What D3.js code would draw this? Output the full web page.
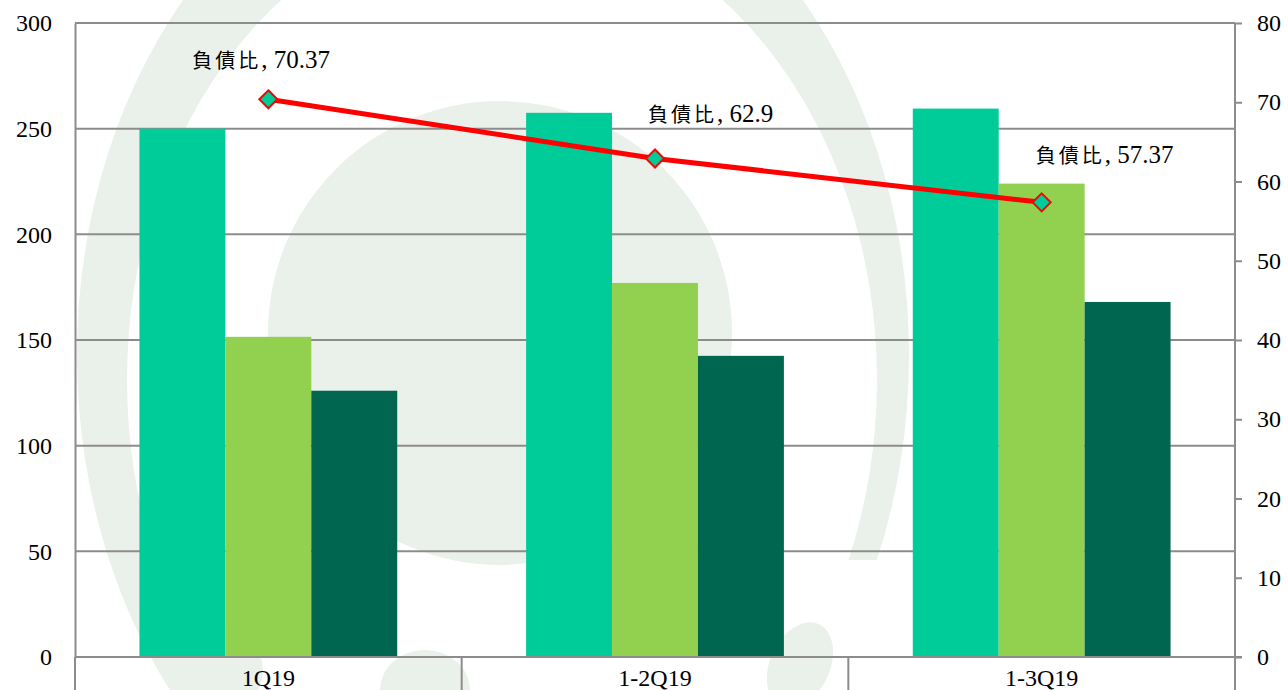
<!DOCTYPE html>
<html>
<head>
<meta charset="utf-8">
<script src="https://cdn.jsdelivr.net/npm/d3@7"></script>
<style>
  html, body { margin: 0; padding: 0; background: #fff; }
  svg { display: block; }
</style>
</head>
<body>
<svg id="chart" width="1288" height="690"></svg>
<script>
// ---- data ----
const categories = ["1Q19", "1-2Q19", "1-3Q19"];
const seriesNames = ["s1", "s2", "s3"];
const series1 = [250, 257.5, 259.5];
const series2 = [151.5, 177, 224];
const series3 = [126, 142.5, 168];
const debtRatio = [70.37, 62.9, 57.37];
const lineName = "負債比";
const leftTicks = [0, 50, 100, 150, 200, 250, 300];
const rightTicks = [0, 10, 20, 30, 40, 50, 60, 70, 80];

const colors = ["#00CC99", "#92D050", "#00664F"];

// ---- layout ----
const W = 1288, H = 690;
const L = 75, R = 1235, T = 23, B = 657;
const svg = d3.select("#chart");

// ---- watermark (faint logo) ----
const wmColor = "#eaf0ea";
const defs = svg.append("defs");
defs.append("clipPath").attr("id", "ringClip").append("path")
  .attr("d", "M0,0H1288V560H600V690H0Z");
function ellipsePath(cx, cy, rx, ry) {
  return `M${cx - rx},${cy}a${rx},${ry} 0 1,0 ${2 * rx},0a${rx},${ry} 0 1,0 ${-2 * rx},0Z`;
}
const wm = svg.append("g");
wm.append("path")
  .attr("d", ellipsePath(493, 355, 416, 532) + ellipsePath(502, 380, 375, 470))
  .attr("fill-rule", "evenodd").attr("fill", wmColor)
  .attr("clip-path", "url(#ringClip)");
wm.append("circle").attr("cx", 500).attr("cy", 333).attr("r", 232).attr("fill", wmColor);
// small swooshes near bottom
wm.append("ellipse").attr("cx", 228).attr("cy", 660).attr("rx", 32).attr("ry", 45)
  .attr("fill", wmColor).attr("transform", "rotate(-25,228,660)");
wm.append("ellipse").attr("cx", 425).attr("cy", 690).attr("rx", 45).attr("ry", 40).attr("fill", wmColor);
wm.append("ellipse").attr("cx", 800).attr("cy", 665).attr("rx", 30).attr("ry", 45)
  .attr("fill", wmColor).attr("transform", "rotate(25,800,665)");

// ---- scales ----
const x = d3.scaleBand().domain(categories).range([L, R]).padding(0);
const xs = d3.scaleBand().domain(seriesNames).range([0, x.bandwidth()])
  .paddingInner(0).paddingOuter(0.75);
const yL = d3.scaleLinear().domain([0, 300]).range([B, T]);
const yR = d3.scaleLinear().domain([0, 80]).range([B, T]);

const gridColor = "#8c8c8c";
const fontSerif = "'Liberation Serif', 'Times New Roman', serif";

// gridlines
svg.append("g").selectAll("line").data(leftTicks.filter(d => d > 0)).join("line")
  .attr("x1", L).attr("x2", R)
  .attr("y1", d => yL(d)).attr("y2", d => yL(d))
  .attr("stroke", gridColor).attr("stroke-width", 2);

// bars
const allSeries = [series1, series2, series3];
const barG = svg.append("g");
categories.forEach((c, i) => {
  seriesNames.forEach((s, j) => {
    const v = allSeries[j][i];
    barG.append("rect")
      .attr("x", x(c) + xs(s))
      .attr("width", xs.bandwidth())
      .attr("y", yL(v))
      .attr("height", B - yL(v))
      .attr("fill", colors[j]);
  });
});

// left axis
const axL = svg.append("g").attr("transform", `translate(${L},0)`)
  .call(d3.axisLeft(yL).tickValues(leftTicks).tickSize(0).tickPadding(23));
axL.select(".domain").attr("stroke", gridColor).attr("stroke-width", 2);
axL.selectAll("text").attr("font-family", fontSerif).attr("font-size", 24).attr("fill", "#000");

// right axis
const axR = svg.append("g").attr("transform", `translate(${R},0)`)
  .call(d3.axisRight(yR).tickValues(rightTicks).tickSize(7).tickPadding(15));
axR.select(".domain").attr("stroke", gridColor).attr("stroke-width", 2).attr("d", `M0,${T}V${B}`);
axR.selectAll(".tick line").attr("stroke", gridColor).attr("stroke-width", 2);
axR.selectAll("text").attr("font-family", fontSerif).attr("font-size", 24).attr("fill", "#000");

// x axis baseline and separators
svg.append("line").attr("x1", L).attr("x2", R + 7).attr("y1", B).attr("y2", B)
  .attr("stroke", gridColor).attr("stroke-width", 2);
const bounds = categories.map(c => x(c)).concat([x(categories[categories.length - 1]) + x.bandwidth()]);
svg.append("g").selectAll("line").data(bounds).join("line")
  .attr("x1", d => d).attr("x2", d => d).attr("y1", B).attr("y2", H)
  .attr("stroke", gridColor).attr("stroke-width", 2);
svg.append("g").selectAll("text").data(categories).join("text")
  .attr("x", d => x(d) + x.bandwidth() / 2)
  .attr("y", 686)
  .attr("text-anchor", "middle")
  .attr("font-family", fontSerif).attr("font-size", 24).attr("fill", "#000")
  .text(d => d);

// line
const pts = categories.map((c, i) => [x(c) + x.bandwidth() / 2, yR(debtRatio[i])]);
svg.append("path")
  .attr("d", d3.line()(pts))
  .attr("fill", "none").attr("stroke", "#FF0000").attr("stroke-width", 5);

// markers
svg.append("g").selectAll("path").data(pts).join("path")
  .attr("transform", d => `translate(${d[0]},${d[1]})`)
  .attr("d", "M0,-9L9,0L0,9L-9,0Z")
  .attr("fill", "#00CC99").attr("stroke", "#FF0000").attr("stroke-width", 2);

// data labels
const labelOffsets = [[-76, -31], [-7, -37], [-6, -39]];
const lblG = svg.append("g");
pts.forEach((p, i) => {
  const t = lblG.append("text")
    .attr("x", p[0] + labelOffsets[i][0])
    .attr("y", p[1] + labelOffsets[i][1])
    .attr("fill", "#000");
  t.append("tspan")
    .attr("font-family", "'Noto Sans CJK TC', 'Noto Sans CJK SC', sans-serif")
    .attr("font-size", 20).attr("letter-spacing", 3)
    .text(lineName);
  t.append("tspan")
    .attr("font-family", fontSerif).attr("font-size", 25)
    .text(", " + debtRatio[i]);
});
</script>
</body>
</html>
